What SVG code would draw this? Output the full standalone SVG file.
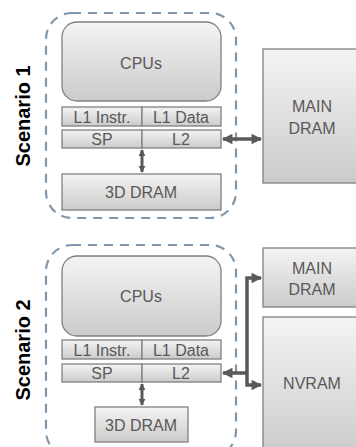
<svg xmlns="http://www.w3.org/2000/svg" width="356" height="447" viewBox="0 0 356 447">
<defs>
<linearGradient id="g" x1="0" y1="0" x2="0" y2="1">
<stop offset="0" stop-color="#f4f4f4"/>
<stop offset="1" stop-color="#cbcbcb"/>
</linearGradient>
<marker id="ah" viewBox="0 0 10 10" refX="9" refY="5" markerWidth="3.2" markerHeight="3" orient="auto-start-reverse">
<path d="M0,0 L10,5 L0,10 z" fill="#595959"/>
</marker>
<marker id="ahs" viewBox="0 0 10 10" refX="9" refY="5" markerWidth="2.3" markerHeight="2.8" orient="auto-start-reverse">
<path d="M0,0 L10,5 L0,10 z" fill="#595959"/>
</marker>
</defs>
<style>
.box{fill:url(#g);stroke:#808080;stroke-width:1.3}
.bd{fill:none;stroke:#7f96ab;stroke-width:2.2;stroke-dasharray:9,7}
.t{font-family:"Liberation Sans",Arial,sans-serif;font-size:16px;fill:#595959;text-anchor:middle;dominant-baseline:central}
.sc{font-family:"Liberation Sans",Arial,sans-serif;font-size:20px;font-weight:bold;fill:#000;text-anchor:middle;dominant-baseline:central}
.c{fill:none;stroke:#595959;stroke-width:3.5}
.cs{fill:none;stroke:#595959;stroke-width:3}
</style>

<g id="scenario1">
<rect class="bd" x="46" y="13" width="190" height="205" rx="26"/>
<text class="sc" transform="translate(23,116) rotate(-90)">Scenario 1</text>
</g>
<g id="cpus1"><rect class="box" x="62" y="22" width="159" height="79" rx="15"/><text class="t" x="141" y="63">CPUs</text></g>
<g id="l1i1"><rect class="box" x="62" y="107" width="80" height="19"/><text class="t" x="102" y="117">L1 Instr.</text></g>
<g id="l1d1"><rect class="box" x="142" y="107" width="79" height="19"/><text class="t" x="181" y="117">L1 Data</text></g>
<g id="sp1"><rect class="box" x="62" y="130" width="80" height="18"/><text class="t" x="102" y="139">SP</text></g>
<g id="l21"><rect class="box" x="142" y="130" width="79" height="18"/><text class="t" x="181" y="139">L2</text></g>
<g id="dram3d1"><rect class="box" x="62" y="174" width="159" height="36"/><text class="t" x="141" y="192">3D DRAM</text></g>
<g id="main1"><rect class="box" x="263" y="49" width="100" height="134"/><text class="t" x="312" y="106">MAIN</text><text class="t" x="312" y="128">DRAM</text></g>

<g id="scenario2">
<rect class="bd" x="46" y="245" width="190" height="212" rx="26"/>
<text class="sc" transform="translate(23,350) rotate(-90)">Scenario 2</text>
</g>
<g id="cpus2"><rect class="box" x="62" y="256" width="159" height="80" rx="15"/><text class="t" x="141" y="296">CPUs</text></g>
<g id="l1i2"><rect class="box" x="62" y="340" width="80" height="19"/><text class="t" x="102" y="350">L1 Instr.</text></g>
<g id="l1d2"><rect class="box" x="142" y="340" width="79" height="19"/><text class="t" x="181" y="350">L1 Data</text></g>
<g id="sp2"><rect class="box" x="62" y="364" width="80" height="18"/><text class="t" x="102" y="373">SP</text></g>
<g id="l22"><rect class="box" x="142" y="364" width="79" height="18"/><text class="t" x="181" y="373">L2</text></g>
<g id="dram3d2"><rect class="box" x="95" y="407" width="93" height="35"/><text class="t" x="141" y="425">3D DRAM</text></g>
<g id="main2"><rect class="box" x="263" y="248" width="100" height="59"/><text class="t" x="312" y="268">MAIN</text><text class="t" x="312" y="289">DRAM</text></g>
<g id="nvram"><rect class="box" x="263" y="317" width="100" height="140"/><text class="t" x="312" y="383">NVRAM</text></g>

<g id="connectors">
<line class="c" x1="223" y1="139" x2="261" y2="139" marker-start="url(#ah)" marker-end="url(#ah)"/>
<line class="cs" x1="142" y1="150" x2="142" y2="172" marker-start="url(#ahs)" marker-end="url(#ahs)"/>
<line class="cs" x1="142" y1="384" x2="142" y2="405" marker-start="url(#ahs)" marker-end="url(#ahs)"/>
<path class="c" d="M261,278 H247 V385 H261" marker-start="url(#ah)" marker-end="url(#ah)"/>
<line class="c" x1="247" y1="373" x2="223" y2="373" marker-end="url(#ah)"/>
</g>
</svg>
